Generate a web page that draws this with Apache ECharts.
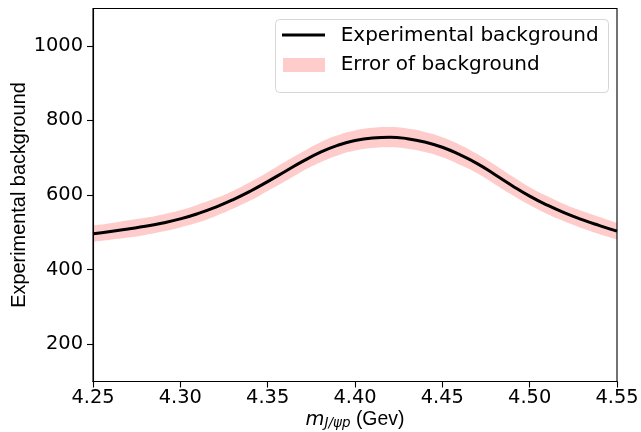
<!DOCTYPE html>
<html>
<head>
<meta charset="utf-8">
<script src="https://cdn.jsdelivr.net/npm/echarts@6/dist/echarts.min.js"></script>
<style>html,body{margin:0;padding:0;background:#fff}#c{width:641px;height:432px}</style>
</head>
<body>
<div id="c"></div>
<script>
const massValues = [4.25,4.26,4.27,4.28,4.29,4.30,4.31,4.32,4.33,4.34,4.35,4.36,4.37,4.38,4.39,4.40,4.41,4.42,4.43,4.44,4.45,4.46,4.47,4.48,4.49,4.50,4.51,4.52,4.53,4.54,4.55];
const background = [496,502,509,516,525,536,550,567,587,610,636,663,690,714,733,746,753,755,751,742,728,708,684,655,625,597,573,552,534,518,503];
const bgError = [22,22,23,23,23,23,24,24,24,25,25,26,26,27,27,27,27,27,27,27,27,27,26,26,25,24,24,23,23,23,22];
const xTicks = [4.25,4.30,4.35,4.40,4.45,4.50,4.55];
const yTicks = [200,400,600,800,1000];

const lineData = massValues.map((x,i)=>[x, background[i]]);
const lowerData = massValues.map((x,i)=>[x, background[i]-bgError[i]]);
const upperData = massValues.map((x,i)=>[x, background[i]+bgError[i]]);

const FS = 19.4;
const SM = 0.5;
const chart = echarts.init(document.getElementById('c'), null, {renderer:'canvas'});
chart.setOption({
  animation:false,
  backgroundColor:'#fff',
  grid:{left:93, right:24, top:8.5, bottom:50.5, containLabel:false, outerBoundsMode:'none', show:true, z:10, borderColor:'#000', borderWidth:1.1, backgroundColor:'transparent'},
  xAxis:{
    type:'value', min:4.25, max:4.55, interval:0.05, z:10,
    axisLine:{show:true, onZero:false, lineStyle:{color:'#000', width:1.1}},
    axisTick:{show:true, length:6, lineStyle:{color:'#000', width:1.1}, customValues:xTicks},
    axisLabel:{color:'#000', fontSize:FS, fontFamily:'DejaVu Sans', margin:7, customValues:xTicks, formatter:v=>v.toFixed(2)},
    splitLine:{show:false},
    name:'{m|m}{s|J/ψp}{t| (Gev)}', nameLocation:'middle', nameGap:27, nameMoveOverlap:false,
    nameTextStyle:{
      rich:{
        m:{fontFamily:'DejaVu Sans', fontStyle:'italic', fontSize:FS, color:'#000', lineHeight:22, verticalAlign:'middle'},
        s:{fontFamily:'DejaVu Sans', fontStyle:'italic', fontSize:13.5, color:'#000', lineHeight:22, verticalAlign:'bottom'},
        t:{fontFamily:'Liberation Sans', fontSize:FS, color:'#000', lineHeight:22, verticalAlign:'middle'}
      }
    }
  },
  yAxis:{
    type:'value', min:100, max:1100, interval:100, z:10,
    axisLine:{show:true, lineStyle:{color:'#000', width:1.1}},
    axisTick:{show:true, length:6, lineStyle:{color:'#000', width:1.1}, customValues:yTicks},
    axisLabel:{color:'#000', fontSize:FS, fontFamily:'DejaVu Sans', margin:10, customValues:yTicks, formatter:v=>String(v)},
    splitLine:{show:false},
    name:'Experimental background', nameLocation:'middle', nameGap:63, nameMoveOverlap:false,
    nameTextStyle:{fontFamily:'Liberation Sans', fontSize:19.9, color:'#000'}
  },
  series:[
    {name:'Error of background', type:'line', data:upperData, smooth:SM, showSymbol:false, symbol:'none',
     lineStyle:{opacity:0, width:0}, areaStyle:{color:'#ffcccc', opacity:1, origin:'start'}, silent:true, z:1},
    {name:'lower', type:'line', data:lowerData, smooth:SM, showSymbol:false, symbol:'none',
     lineStyle:{opacity:0, width:0}, areaStyle:{color:'#ffffff', opacity:1, origin:'start'}, silent:true, z:2},
    {name:'Experimental background', type:'line', data:lineData, smooth:SM, showSymbol:false, symbol:'none',
     lineStyle:{color:'#000', width:3}, z:3}
  ],
  graphic:[
    {type:'rect', z:100, shape:{x:275.5, y:19.5, width:333, height:73, r:4}, style:{fill:'rgba(255,255,255,0.8)', stroke:'#d6d6d6', lineWidth:1}},
    {type:'line', z:101, shape:{x1:282, y1:35, x2:325, y2:35}, style:{stroke:'#000', lineWidth:3}},
    {type:'rect', z:101, shape:{x:283, y:58, width:42, height:14}, style:{fill:'#ffcccc'}},
    {type:'text', z:101, x:340.7, y:36, style:{text:'Experimental background', fontFamily:'DejaVu Sans', fontSize:20, fill:'#000', textVerticalAlign:'middle', verticalAlign:'middle'}},
    {type:'text', z:101, x:340.7, y:65, style:{text:'Error of background', fontFamily:'DejaVu Sans', fontSize:20, fill:'#000', textVerticalAlign:'middle', verticalAlign:'middle'}}
  ]
});
</script>
</body>
</html>
